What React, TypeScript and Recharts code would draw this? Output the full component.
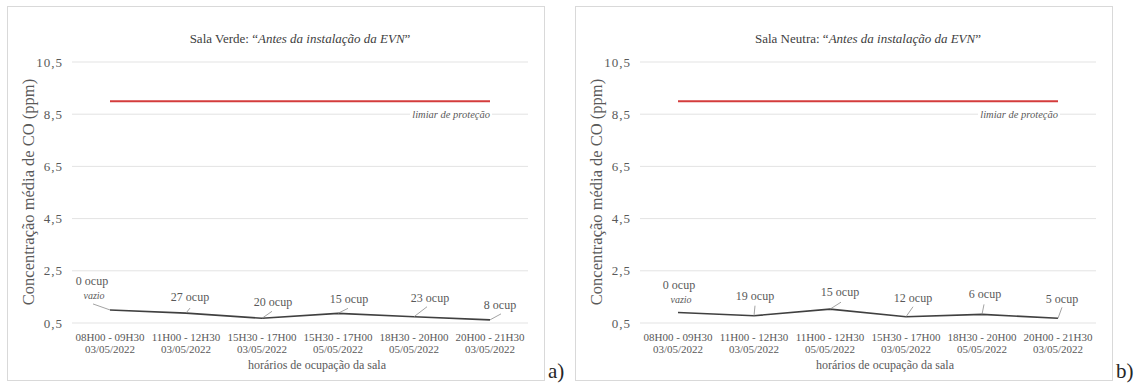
import React from 'react';
import { LineChart, Line, XAxis, YAxis, CartesianGrid, LabelList } from 'recharts';

// ---------- data ----------
const timesA = ['08H00 - 09H30', '11H00 - 12H30', '15H30 - 17H00', '15H30 - 17H00', '18H30 - 20H00', '20H00 - 21H30'];
const datesA = ['03/05/2022', '03/05/2022', '03/05/2022', '05/05/2022', '05/05/2022', '03/05/2022'];
const coA = [1.0, 0.88, 0.68, 0.87, 0.74, 0.62];
const occA = [0, 27, 20, 15, 23, 8];

const timesB = ['08H00 - 09H30', '11H00 - 12H30', '11H00 - 12H30', '15H30 - 17H00', '18H30 - 20H00', '20H00 - 21H30'];
const datesB = ['03/05/2022', '03/05/2022', '05/05/2022', '03/05/2022', '05/05/2022', '03/05/2022'];
const coB = [0.9, 0.78, 1.03, 0.74, 0.83, 0.68];
const occB = [0, 19, 15, 12, 6, 5];

const threshold = 9;
const yTicks = [0.5, 2.5, 4.5, 6.5, 8.5, 10.5];

const titleA = 'Sala Verde: ';
const titleB = 'Sala Neutra: ';
const titleItalic = 'Antes da instalação da EVN';
const yTitle = 'Concentração média de CO (ppm)';
const xTitle = 'horários de ocupação da sala';
const thresholdLabel = 'limiar de proteção';
const emptyLabel = 'vazio';

// ---------- label placement (styling) ----------
// [label dx, label dy, leader dx, leader dy] relative to the point
const placeA: number[][] = [
  [-18, -29, -17, -6],
  [4, -16, 4, -5],
  [11, -16, 10, -7],
  [11, -14, 10, -5],
  [16, -19, 13, -10],
  [10, -15, 11, -6],
];
const placeB: number[][] = [
  [1, -28, 0, 0],
  [1, -20, 1, -10],
  [10, -17, 11, -7],
  [7, -19, 7, -10],
  [3, -20, 2, -10],
  [4, -19, 4, -11],
];

const FONT = "'Liberation Serif', 'Times New Roman', serif";
const TXT = '#595959';

const buildRows = (times: string[], dates: string[], co: number[], occ: number[]) =>
  times.map((t, i) => ({ key: t + '|' + dates[i], time: t, date: dates[i], co: co[i], occ: occ[i], limit: threshold }));

const W = 538;
const H = 375;

function Panel({ title, times, dates, co, occ, place, left, tag }: any) {
  const rows = buildRows(times, dates, co, occ);

  const XTick = (p: any) => {
    const i = p.index ?? p.payload?.index ?? 0;
    return (
      <text x={p.x} y={p.y} textAnchor="middle" fill={TXT} fontSize={11} fontFamily={FONT}>
        <tspan x={p.x} dy={18}>{times[i]}</tspan>
        <tspan x={p.x} dy={11.5}>{dates[i]}</tspan>
      </text>
    );
  };

  const dataLabel = (p: any) => {
    const { x, y, index } = p;
    if (x == null || y == null) return null;
    const [lx, ly, kx, ky] = place[index];
    const n = occ[index];
    const hasLeader = !(kx === 0 && ky === 0);
    return (
      <g key={'dl' + index}>
        {hasLeader && (
          <line x1={x + kx} y1={y + ky} x2={x} y2={y} stroke="#8c8c8c" strokeWidth={0.8} />
        )}
        <text x={x + lx} y={y + ly} dy={4} textAnchor="middle" fill={TXT} fontSize={12} fontFamily={FONT}>
          {n + ' ocup'}
        </text>
        {n === 0 && (
          <text x={x + lx + 2} y={y + ly + 15} dy={3} textAnchor="middle" fill={TXT} fontSize={10} fontStyle="italic" fontFamily={FONT}>
            {emptyLabel}
          </text>
        )}
      </g>
    );
  };

  const limitLabel = (p: any) => {
    const { x, y, index } = p;
    if (index !== rows.length - 1 || x == null) return null;
    return (
      <g key="lim">
        <rect x={x - 80} y={y + 6} width={82} height={13} fill="#ffffff" />
        <text x={x} y={y + 13} dy={3.5} textAnchor="end" fill={TXT} fontSize={10.5} fontStyle="italic" fontFamily={FONT}>
          {thresholdLabel}
        </text>
      </g>
    );
  };

  return (
    <div style={{ position: 'absolute', left, top: 6, width: W, height: H }}>
      <LineChart width={W} height={H} data={rows} margin={{ top: 56, right: 17, bottom: 0, left: 0 }}>
        <CartesianGrid vertical={false} stroke="#e3e3e3" strokeWidth={1} />
        <XAxis dataKey="key" type="category" axisLine={false} tickLine={false} tickSize={0} tickMargin={0} height={58}
          padding={{ left: 38, right: 38 }} interval={0} tick={XTick} />
        <YAxis type="number" domain={[0.5, 10.5]} ticks={yTicks} width={65} axisLine={false} tickLine={false} tickSize={0}
          tickMargin={9} interval={0} tickFormatter={(v: number) => v.toFixed(1).replace('.', ',')}
          tick={{ fill: TXT, fontSize: 13, fontFamily: FONT, letterSpacing: 1 }} />
        <Line dataKey="limit" stroke="#d43c3c" strokeWidth={2} dot={false} isAnimationActive={false}>
          <LabelList dataKey="limit" content={limitLabel} />
        </Line>
        <Line dataKey="co" stroke="#404040" strokeWidth={1.6} dot={false} isAnimationActive={false}>
          <LabelList dataKey="occ" content={dataLabel} />
        </Line>
      </LineChart>
      <div style={{ position: 'absolute', left: 0, top: 0, width: W, height: H, boxSizing: 'border-box', border: '1px solid #d9d9d9', pointerEvents: 'none' }} />
      <div style={{ position: 'absolute', left: 293, top: 33, transform: 'translate(-50%, -50%)', whiteSpace: 'nowrap', fontFamily: FONT, fontSize: 13, color: '#404040', lineHeight: '16px' }}>
        {title}“<i>{titleItalic}</i>”
      </div>
      <div style={{ position: 'absolute', left: 22, top: 186, transform: 'translate(-50%, -50%) rotate(-90deg)', whiteSpace: 'nowrap', fontFamily: FONT, fontSize: 16.5, color: TXT, lineHeight: '18px' }}>
        {yTitle}
      </div>
      <div style={{ position: 'absolute', left: 310, top: 359, transform: 'translate(-50%, -50%)', whiteSpace: 'nowrap', fontFamily: FONT, fontSize: 12, color: TXT, lineHeight: '14px' }}>
        {xTitle}
      </div>
      <div style={{ position: 'absolute', left: W + 3, top: 355, fontFamily: FONT, fontSize: 21, color: '#262626', lineHeight: '20px' }}>
        {tag}
      </div>
    </div>
  );
}

export default function App() {
  return (
    <div style={{ position: 'absolute', left: 0, top: 0, width: 1141, height: 383, background: '#ffffff' }}>
      <Panel title={titleA} times={timesA} dates={datesA} co={coA} occ={occA} place={placeA} left={7} tag="a)" />
      <Panel title={titleB} times={timesB} dates={datesB} co={coB} occ={occB} place={placeB} left={575} tag="b)" />
    </div>
  );
}
